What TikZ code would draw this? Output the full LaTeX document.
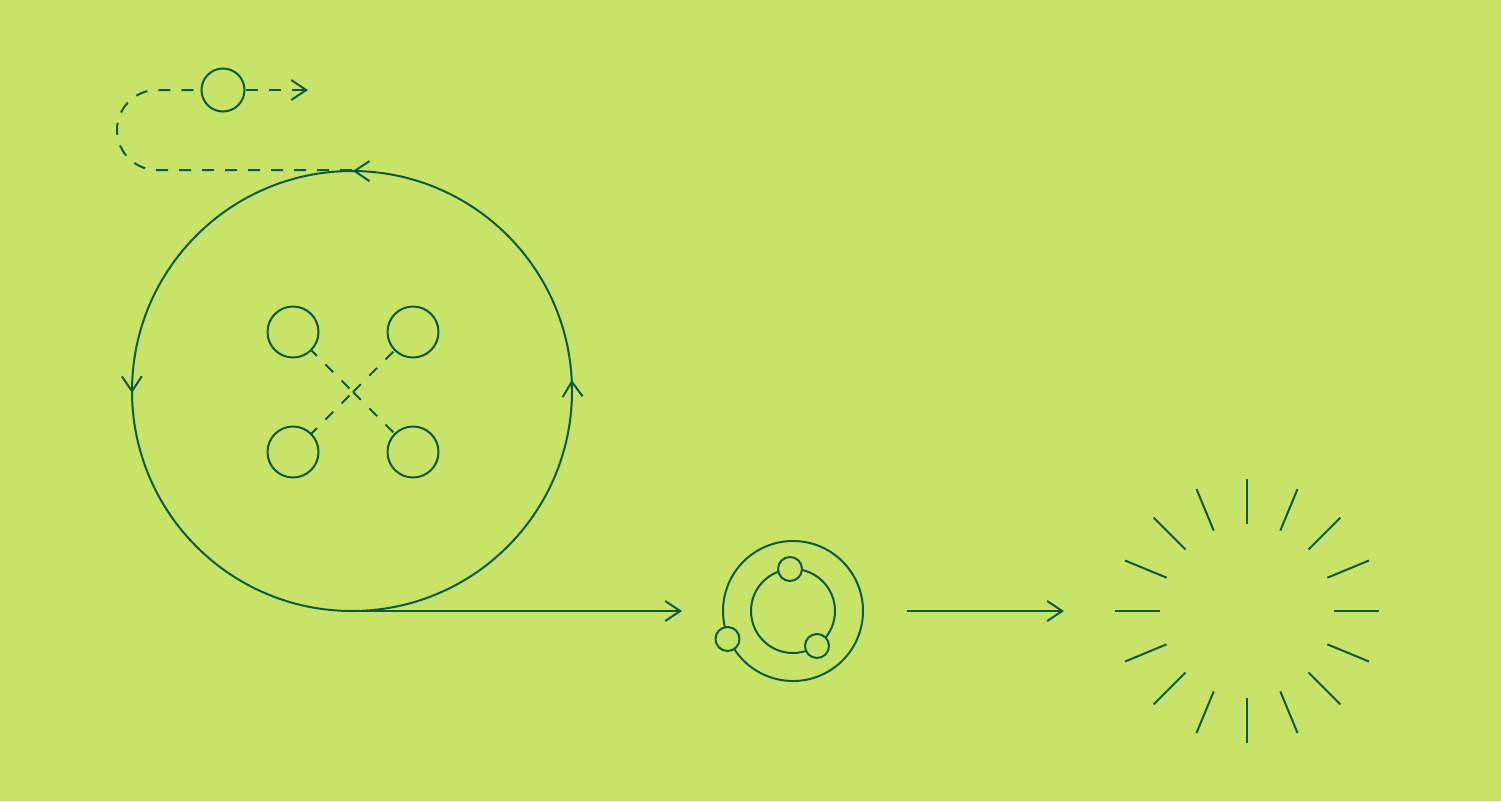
\documentclass[tikz,border=0pt]{standalone}
\usetikzlibrary{arrows.meta,decorations.markings}
\definecolor{bg}{HTML}{C8E468}
\definecolor{ink}{HTML}{0A5A3E}
\tikzset{
  chev/.tip={Straight Barb[length=15pt,width=20pt]},
  ln/.style={draw=ink, line width=2pt},
  dsh/.style={dash pattern=on 12pt off 11pt},
  ring/.style={circle, draw=ink, line width=2pt, fill=bg, inner sep=0pt},
}
\begin{document}
\begin{tikzpicture}[x=1pt,y=-1pt]
\fill[bg] (0,0) rectangle (1501,801);
\useasboundingbox (0,0) rectangle (1501,801);

% big circle with direction marks
\coordinate (C) at (352,391);
\draw[ln, postaction={decorate}, decoration={markings,
   mark=at position 0.2515 with {\arrow{chev}},
   mark=at position 0.758 with {\arrow{chev}},
   mark=at position 0.9995 with {\arrow{chev}}}]
  (352,171) arc[start angle=270, end angle=-90, radius=220];

% line from bottom of circle
\coordinate (cb) at (352,611);
\coordinate (a1) at (682,611);
\draw[ln,-chev] (cb) -- (a1);

% dashed loop at top
\node[ring, minimum size=43pt] (s) at (223,90) {};
\coordinate (ct) at (352,170);
\coordinate (dl) at (157,170);
\coordinate (a0) at (308,90);
\draw[ln,dsh] (ct) -- (dl) arc[start angle=90, end angle=270, radius=40] -- (s.west);
\draw[ln,dsh,-chev] (s.east) -- (a0);

% four circles with dashed cross
\node[ring, minimum size=51pt] (tl) at (293,332) {};
\node[ring, minimum size=51pt] (tr) at (413,332) {};
\node[ring, minimum size=51pt] (bl) at (293,452) {};
\node[ring, minimum size=51pt] (br) at (413,452) {};
\coordinate (x) at (353,392);
\draw[ln,dash pattern=on 11pt off 12pt] (x) -- (tr.south west);
\draw[ln,dash pattern=on 11pt off 12pt] (x) -- (br.north west);
\draw[ln,dash pattern=on 11pt off 12pt, dash phase=18pt] (x) -- (tl.south east);
\draw[ln,dash pattern=on 11pt off 12pt, dash phase=18pt] (x) -- (bl.north east);

% orbit symbol
\node[circle, draw=ink, line width=2pt, inner sep=0pt, minimum size=140pt] (outer) at (793,611) {};
\node[circle, draw=ink, line width=2pt, inner sep=0pt, minimum size=84pt] (inner) at (793,611) {};
\node[ring, minimum size=24pt] (o1) at (790,569) {};
\node[ring, minimum size=24pt] (o2) at (817,646) {};
\node[ring, minimum size=24pt] (o3) at (727.5,639) {};

% arrow to burst
\coordinate (b0) at (907,611);
\coordinate (b1) at (1064,611);
\draw[ln,-chev] (b0) -- (b1);

% burst
\foreach \a in {0,22.5,...,337.5}
  \draw[ln, shift={(1247,611)}] (\a:87) -- (\a:132);
\end{tikzpicture}
\end{document}
